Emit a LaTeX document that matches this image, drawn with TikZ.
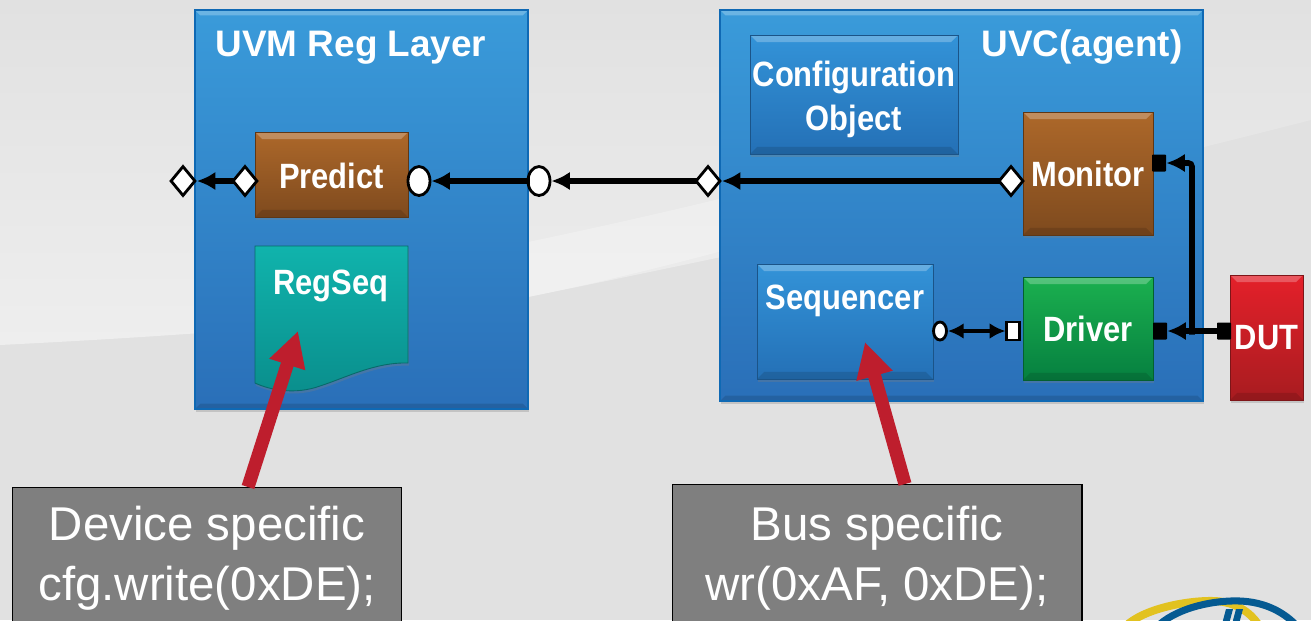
\documentclass[tikz,border=0pt]{standalone}
\usepackage{fontspec}
\setmainfont{Liberation Sans}
\newfontfamily\blockfont[FakeStretch=0.88]{Liberation Sans}
\usetikzlibrary{arrows.meta,shapes.geometric,shadows}
\definecolor{paneltop}{HTML}{3A9BDA}
\definecolor{panelbot}{HTML}{2A6FB8}
\definecolor{paneledge}{HTML}{0F69B4}
\definecolor{brownt}{HTML}{AD682A}
\definecolor{brownb}{HTML}{7E4A1E}
\definecolor{greent}{HTML}{1BB04F}
\definecolor{greenb}{HTML}{068040}
\definecolor{redt}{HTML}{E4202A}
\definecolor{redb}{HTML}{A81C20}
\definecolor{bluet}{HTML}{3393D8}
\definecolor{blueb}{HTML}{2470B6}
\definecolor{tealt}{HTML}{10B3AC}
\definecolor{tealb}{HTML}{0A8E8C}
\definecolor{redarrow}{HTML}{BE1E2D}
\definecolor{notegray}{HTML}{7F7F7F}
\definecolor{logoyellow}{HTML}{E2C220}
\definecolor{logoblue}{HTML}{055A92}
\definecolor{backgray}{HTML}{E1E1E1}
\definecolor{backlight}{HTML}{EEEEEE}
\tikzset{
  bevel/.style={path picture={
      \fill[white, opacity=0.25] (path picture bounding box.north west)--(path picture bounding box.north east)--++(-#1,-#1)--([shift={(#1,-#1)}]path picture bounding box.north west)--cycle;
      \fill[black, opacity=0.12] (path picture bounding box.south west)--(path picture bounding box.south east)--++(-#1,#1)--([shift={(#1,#1)}]path picture bounding box.south west)--cycle;
    }},
  block/.style n args={3}{rectangle, inner sep=0pt, text=white, font=\blockfont\bfseries\fontsize{20}{25}\selectfont,
    top color=#1, bottom color=#2, draw=#2!75!black, line width=0.5pt, drop shadow={opacity=0.3, shadow xshift=0.6pt, shadow yshift=-1.5pt}, bevel=4pt},
  panel/.style={rectangle, inner sep=0pt, top color=paneltop, bottom color=panelbot, draw=paneledge, line width=1pt, drop shadow={opacity=0.3, shadow xshift=0.6pt, shadow yshift=-1.5pt}, bevel=3pt},
  title/.style={text=white, font=\bfseries\fontsize{21}{24}\selectfont, inner sep=0pt},
  label/.style={text=white, font=\blockfont\bfseries\fontsize{20}{25}\selectfont, inner sep=0pt, align=center},
  note/.style={rectangle, fill=notegray, draw=black, line width=0.6pt, text=white, inner sep=0pt, align=center, font=\fontsize{27}{34}\selectfont},
  portdia/.style={diamond, draw=black, fill=white, line width=1.6pt, inner sep=0pt, aspect=0.75, minimum width=0.5cm, minimum height=0.6cm},
  portcirc/.style={ellipse, draw=black, fill=white, line width=1.6pt, inner sep=0pt, minimum width=0.44cm, minimum height=0.58cm},
  portsq/.style={rectangle, fill=black, inner sep=0pt, minimum width=0.28cm, minimum height=0.34cm, rounded corners=0.5pt},
  wire/.style={line width=3.2pt, shorten <=-2pt, -{Latex[length=10.5pt,width=10.5pt]}},
  pointer/.style={line width=7.5pt, redarrow, -{Triangle[length=20pt,width=20pt]}},
}
\begin{document}
\begin{tikzpicture}[x=0.02cm, y=-0.02cm]
\useasboundingbox (0,0) rectangle (1311,620);
\clip (0,0) rectangle (1311,620);
% backdrop
\fill[backgray] (0,0) rectangle (1311,620);
\shade[top color=backgray, bottom color=backlight] (0,0)--(1311,0)--(1311,120) .. controls (1000,200) and (700,262) .. (528,297) .. controls (400,320) and (200,335) .. (0,345)--cycle;
\fill[white, opacity=0.25] (1000,120) .. controls (850,170) and (680,210) .. (528,242)--(400,268)--(400,318)--(528,297) .. controls (700,262) and (850,215) .. (1000,170)--cycle;
% logo, cut by the page edge
\draw[line width=4.5pt, color=logoyellow] (1128,624) .. controls (1150,606) and (1195,600) .. (1215,601) .. controls (1235,602) and (1250,612) .. (1258,624);
\draw[line width=4pt, color=logoblue] (1160,624) .. controls (1180,607) and (1215,600) .. (1240,601) .. controls (1265,602) and (1283,612) .. (1295,624);
\fill[color=logoblue] (1222,624)--(1226,609)--(1233,609)--(1229,624)--cycle (1232,624)--(1236,609)--(1243,609)--(1239,624)--cycle;
% panels
\node[panel, minimum width=6.66cm, minimum height=7.98cm] (reglayer) at (361.5,209.5) {};
\node[panel, minimum width=9.66cm, minimum height=7.82cm] (uvc) at (961.5,205.5) {};
\node[title] (regtitle) at (351,48) {UVM Reg Layer};
\node[title] (uvctitle) at (1082,47) {UVC(agent)};
% blocks
\node[block={brownt}{brownb}{}, minimum width=3.06cm, minimum height=1.7cm, text height=16pt, text depth=0pt] (predict) at (331.5,174.5) {Predict};
\node[block={brownt}{brownb}{}, minimum width=2.6cm, minimum height=2.46cm] (monitor) at (1088,173.5) {Monitor};
\node[block={greent}{greenb}{}, minimum width=2.6cm, minimum height=2.06cm] (driver) at (1088,328.5) {Driver};
\node[block={redt}{redb}{}, minimum width=1.46cm, minimum height=2.5cm] (dut) at (1266.5,337.5) {DUT};
\node[block={bluet}{blueb}{}, minimum width=4.16cm, minimum height=2.38cm] (config) at (854,94.5) {};
\node[label] (cfglabel) at (854,99.5) {Configuration\\Object};
\node[block={bluet}{blueb}{}, minimum width=3.52cm, minimum height=2.3cm] (sequencer) at (845,321.5) {};
\node[label] (seqlabel) at (845,301) {Sequencer};
% document shape
\draw[top color=tealt, bottom color=tealb, draw=tealb!75!black, line width=0.5pt, drop shadow={opacity=0.3, shadow xshift=0.6pt, shadow yshift=-1.5pt}] (255,246)--(408,246)--(408,363) .. controls (375,362) and (345,378) .. (320,386) .. controls (295,395) and (270,390) .. (255,383)--cycle;
\node[label] (regseq) at (331,286) {RegSeq};
% ports
\node[portdia] (outdia) at (183,181) {};
\node[portdia] (preddia) at (245,181) {};
\node[portcirc] (predcirc) at (419,181) {};
\node[portcirc] (regcirc) at (539,181) {};
\node[portdia] (uvcdia) at (708,181) {};
\node[portdia] (mondia) at (1011,181) {};
\node[portsq] (monsq) at (1159,163) {};
\node[portsq] (drvsq) at (1160,331) {};
\node[portsq] (dutsq) at (1224,331) {};
\node[portcirc, minimum width=0.26cm, minimum height=0.36cm] (seqcirc) at (940,331) {};
\node[rectangle, draw=black, fill=white, line width=1.2pt, inner sep=0pt, minimum width=0.26cm, minimum height=0.36cm] (drvport) at (1013,331) {};
\coordinate (branch) at (1192,331);
% connectors
\draw[wire] (preddia)--(outdia);
\draw[wire] (regcirc)--(predcirc);
\draw[wire] (uvcdia)--(regcirc);
\draw[wire] (mondia)--(uvcdia);
\draw[wire] (dutsq)--(drvsq);
\draw[wire, rounded corners=2pt] (branch)--(1192,163)--(monsq);
\draw[line width=2.8pt, {Latex[length=9pt,width=9pt]}-{Latex[length=9pt,width=9pt]}] (seqcirc)--(drvport);
% notes
\node[note, minimum width=7.8cm, minimum height=2.86cm] (devnote) at (207,558.5) {Device specific\\cfg.write(0xDE);};
\node[note, minimum width=8.2cm, minimum height=2.96cm] (busnote) at (877,558) {Bus specific\\wr(0xAF, 0xDE);};
\coordinate (regtail) at (248,487);
\coordinate (regtip) at (298,331);
\coordinate (seqtail) at (905,484);
\coordinate (seqtip) at (865,342);
\draw[pointer] (regtail)--(regtip);
\draw[pointer] (seqtail)--(seqtip);
\end{tikzpicture}
\end{document}
